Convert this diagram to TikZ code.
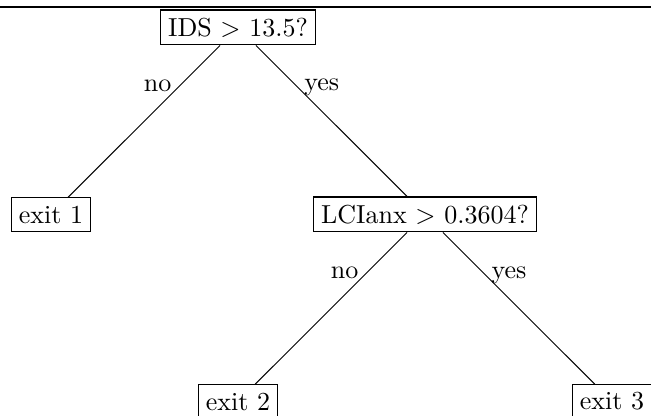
\documentclass[tikz,border=0pt]{standalone}
\begin{document}
\begin{tikzpicture}[x=0.3846pt,y=-0.3846pt,
    box/.style={draw,inner sep=3pt},
    nolbl/.style={anchor=base east,inner sep=1pt},
    yeslbl/.style={anchor=base west,inner sep=1pt}]
  \useasboundingbox (0,0) rectangle (651,416);
  \draw[line width=0.6pt] (0,7) -- (651,7);

  % decision nodes and exits
  \node[box] (ids) at (238,27.5) {IDS $>$ 13.5?};
  \node[box] (exit1) at (51,214.5) {exit 1};
  \node[box] (lci) at (425,214.5) {LCIanx $>$ 0.3604?};
  \node[box] (exit2) at (238,401.5) {exit 2};
  \node[box] (exit3) at (612,401.5) {exit 3};

  \draw (ids) -- node[pos=0.3,nolbl] {no} (exit1);
  \draw (ids) -- node[pos=0.3,yeslbl] {yes} (lci);
  \draw (lci) -- node[pos=0.3,nolbl] {no} (exit2);
  \draw (lci) -- node[pos=0.3,yeslbl] {yes} (exit3);
\end{tikzpicture}
\end{document}
